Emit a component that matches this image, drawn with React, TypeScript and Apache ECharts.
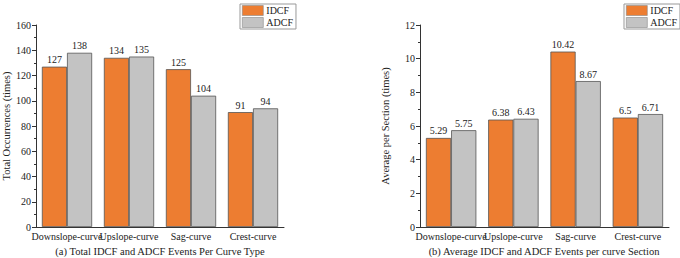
import React, { useEffect, useRef } from "react";
import * as echarts from "echarts";

const categories = ["Downslope-curve", "Upslope-curve", "Sag-curve", "Crest-curve"];
const totalIDCF = [127, 134, 125, 91];
const totalADCF = [138, 135, 104, 94];
const avgIDCF = [5.29, 6.38, 10.42, 6.5];
const avgADCF = [5.75, 6.43, 8.67, 6.71];
const seriesNames = ["IDCF", "ADCF"];
const subtitles = [
  "(a) Total IDCF and ADCF Events Per Curve Type",
  "(b) Average IDCF and ADCF Events per curve Section",
];

const FONT = "Liberation Serif";
const ORANGE = "#ED7D31";
const GREY = "#C3C3C3";
const AXIS = "#333";

export default function App() {
  const ref = useRef<HTMLDivElement>(null);

  useEffect(() => {
    if (!ref.current) return;
    const chart = echarts.init(ref.current, null, { renderer: "svg" });

    const yAxis = (max: number, interval: number, name: string, nameGap: number, gridIndex: number) => ({
      type: "value",
      gridIndex,
      min: 0,
      max,
      interval,
      name,
      nameLocation: "middle",
      nameGap,
      nameTextStyle: { fontFamily: FONT, fontSize: 10.5, color: "#222" },
      axisLine: { show: true, lineStyle: { color: AXIS, width: 1 } },
      axisTick: { show: true, length: 4, lineStyle: { color: AXIS } },
      minorTick: { show: true, splitNumber: 2, length: 2, lineStyle: { color: AXIS } },
      splitLine: { show: false },
      axisLabel: { fontFamily: FONT, fontSize: 10, color: "#222", margin: 5 },
    });

    const xAxis = (gridIndex: number) => ({
      type: "category",
      gridIndex,
      data: categories,
      axisLine: { show: true, lineStyle: { color: AXIS, width: 1 } },
      axisTick: { show: false },
      axisLabel: { fontFamily: FONT, fontSize: 10, color: "#222", margin: 4, interval: 0 },
    });

    const bar = (name: string, data: number[], color: string, idx: number) => ({
      type: "bar",
      name,
      xAxisIndex: idx,
      yAxisIndex: idx,
      data,
      barGap: "0%",
      barCategoryGap: "19%",
      itemStyle: { color, borderColor: "#555", borderWidth: 0.8 },
      label: {
        show: true,
        position: "top",
        distance: 2,
        fontFamily: FONT,
        fontSize: 10,
        color: "#222",
      },
    });

    const legend = (left: number) => ({
      orient: "vertical",
      left,
      top: 4,
      data: seriesNames,
      icon: "rect",
      itemWidth: 21,
      itemHeight: 10,
      itemGap: 1,
      padding: [1, 3, 1, 2],
      borderColor: "#999",
      borderWidth: 1,
      itemStyle: { borderColor: "#888", borderWidth: 0.6 },
      textStyle: { fontFamily: FONT, fontSize: 10, color: "#222", lineHeight: 11, padding: [0, 0, 0, -2] },
      selectedMode: false,
    });

    chart.setOption({
      animation: false,
      backgroundColor: "#fff",
      grid: [
        { left: 36, top: 25, width: 248, bottom: 31, containLabel: false },
        { left: 420, top: 25, width: 249, bottom: 31, containLabel: false },
      ],
      xAxis: [xAxis(0), xAxis(1)],
      yAxis: [
        yAxis(160, 20, "Total Occurrences (times)", 24, 0),
        yAxis(12, 2, "Average per Section (times)", 29, 1),
      ],
      legend: [legend(240), legend(624)],
      series: [
        bar(seriesNames[0], totalIDCF, ORANGE, 0),
        bar(seriesNames[1], totalADCF, GREY, 0),
        bar(seriesNames[0], avgIDCF, ORANGE, 1),
        bar(seriesNames[1], avgADCF, GREY, 1),
      ],
      graphic: [
        {
          type: "text",
          x: 160,
          y: 251,
          style: {
            text: subtitles[0],
            fontFamily: FONT,
            fontSize: 10.5,
            fill: "#222",
            align: "center",
            verticalAlign: "middle",
          },
        },
        {
          type: "text",
          x: 544,
          y: 251,
          style: {
            text: subtitles[1],
            fontFamily: FONT,
            fontSize: 10.5,
            fill: "#222",
            align: "center",
            verticalAlign: "middle",
          },
        },
      ],
    });

    return () => chart.dispose();
  }, []);

  return <div ref={ref} style={{ width: 680, height: 258, position: "absolute", left: 0, top: 0 }} />;
}
